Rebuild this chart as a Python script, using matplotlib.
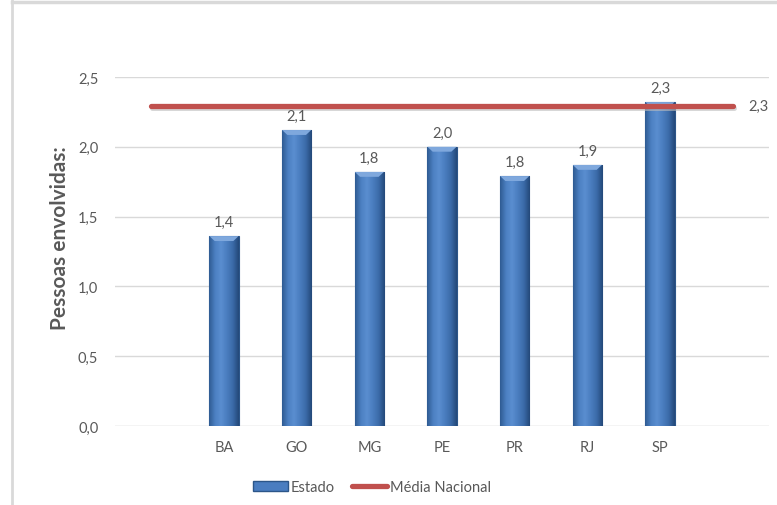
import numpy as np
import matplotlib
matplotlib.use("Agg")
import matplotlib.pyplot as plt
from matplotlib.colors import LinearSegmentedColormap
from matplotlib.lines import Line2D
from matplotlib.patches import Rectangle

# Data
estados = ["BA", "GO", "MG", "PE", "PR", "RJ", "SP"]
valores = [1.36, 2.12, 1.82, 2.00, 1.79, 1.87, 2.32]
media_nacional = 2.295
y_ticks = [0.0, 0.5, 1.0, 1.5, 2.0, 2.5]

plt.rcParams["font.family"] = ["Lato", "DejaVu Sans"]
txt = "#595959"

def br(v):
    return f"{v:.1f}".replace(".", ",")

fig = plt.figure(figsize=(7.77, 5.06), dpi=100)
W, H = 777, 506
ax = fig.add_axes([115 / W, (H - 427) / H, (769 - 115) / W, (427 - 78) / H])

# positions: empty slot at each end, like the original category axis
pos = np.arange(1, len(estados) + 1)
ax.set_xlim(-0.5, len(estados) + 1.5)
ax.set_ylim(0, 2.5)

for y in y_ticks:
    ax.axhline(y, color="#D9D9D9" if y > 0 else "#C8C8C8", lw=1.0, zorder=0)

cmap = LinearSegmentedColormap.from_list(
    "bar", ["#2F5C93", "#4C80C2", "#5A8ED0", "#4A7DBF", "#3B6BA9", "#24497A"])
grad = np.linspace(0, 1, 64).reshape(1, -1)
bw = 0.4
bars = ax.bar(pos, valores, width=bw, color="#4A7DC0", edgecolor="#2C5689",
              lw=0.8, zorder=2)
for b, v in zip(bars, valores):
    x0 = b.get_x()
    im = ax.imshow(grad, cmap=cmap, aspect="auto", zorder=2.5,
                   extent=[x0, x0 + bw, 0, v])
    im.set_clip_path(b)
    # light bevel at the top of each bar
    ax.fill([x0, x0 + bw, x0 + bw * 0.82, x0 + bw * 0.18],
            [v, v, v - 0.035, v - 0.035], color="#7FA8DD", zorder=3, lw=0)
    ax.annotate(br(v), (b.get_x() + bw / 2, v), xytext=(0, 5),
                textcoords="offset points", ha="center", va="bottom",
                fontsize=10.5, color=txt, zorder=5)

# national average line across all slots
xl = np.arange(0, len(estados) + 2)
shadow = ax.transData + matplotlib.transforms.ScaledTranslation(
    1 / 100, -2 / 100, fig.dpi_scale_trans)
ax.plot(xl, [media_nacional] * len(xl), color="#BDBDBD", lw=3.6,
        solid_capstyle="round", zorder=3.5, alpha=0.6, transform=shadow)
ax.plot(xl, [media_nacional] * len(xl), color="#C0504D", lw=3.8,
        solid_capstyle="round", zorder=4)
ax.annotate(br(media_nacional), (xl[-1], media_nacional), xytext=(11, 0),
            textcoords="offset points", ha="left", va="center",
            fontsize=10.5, color=txt, annotation_clip=False)

ax.set_xticks(pos)
ax.set_xticklabels(estados)
ax.set_yticks(y_ticks)
ax.set_yticklabels([br(v) for v in y_ticks])
ax.tick_params(length=0, labelsize=10.5, labelcolor=txt)
ax.tick_params(axis="y", pad=12)
ax.tick_params(axis="x", pad=10)
for s in ax.spines.values():
    s.set_visible(False)

fig.text(60 / W, 1 - 238 / H, "Pessoas envolvidas:", rotation=90, ha="center",
         va="center", fontsize=15, fontweight="bold", color=txt)

handles = [Rectangle((0, 0), 1, 1, facecolor="#4A7DC0", edgecolor="#2C5689"),
           Line2D([0], [0], color="#C0504D", lw=3.8, solid_capstyle="round")]
fig.legend(handles, ["Estado", "Média Nacional"], loc="center",
           bbox_to_anchor=(372 / W, 1 - 488 / H), ncol=2, frameon=False,
           fontsize=10.5, labelcolor=txt, handlelength=2.4, handletextpad=0.2,
           columnspacing=1.2)

# light frame lines from the cropped original
fig.add_artist(Line2D([12 / W, 12 / W], [0, 1], color="#D9D9D9", lw=2))
fig.add_artist(Line2D([12 / W, 1], [1 - 3 / H, 1 - 3 / H], color="#D9D9D9", lw=2.5))

fig.savefig("out.png", dpi=100)
